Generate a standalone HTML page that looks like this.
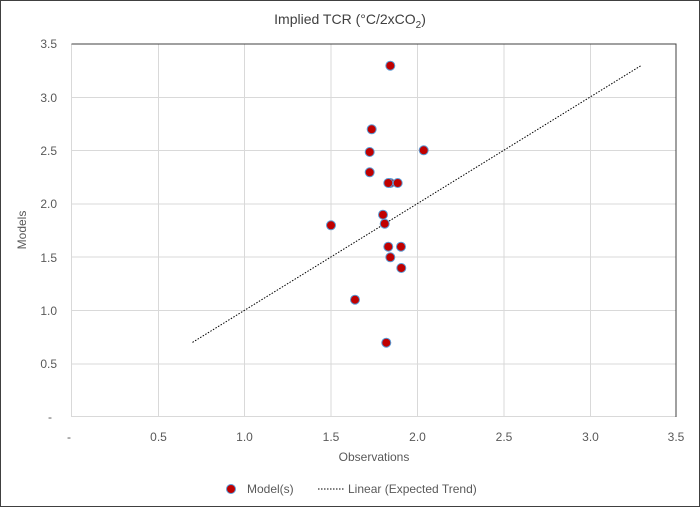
<!DOCTYPE html>
<html><head><style>body{margin:0;background:#fff}svg{display:block}</style></head><body>
<svg width="700" height="507" viewBox="0 0 700 507" font-family="Liberation Sans, sans-serif">
<rect x="0.5" y="0.5" width="699" height="506" fill="#fff" stroke="#404040"/>
<text x="350" y="24" text-anchor="middle" font-size="14" fill="#404040">Implied TCR (°C/2xCO<tspan font-size="10" dy="4">2</tspan><tspan dy="-4">)</tspan></text>
<g stroke="#d9d9d9" stroke-width="1">
<line x1="71.5" y1="364" x2="676.5" y2="364"/><line x1="71.5" y1="310.5" x2="676.5" y2="310.5"/>
<line x1="71.5" y1="257" x2="676.5" y2="257"/><line x1="71.5" y1="204" x2="676.5" y2="204"/>
<line x1="71.5" y1="150.5" x2="676.5" y2="150.5"/><line x1="71.5" y1="97.5" x2="676.5" y2="97.5"/>
<line x1="158.5" y1="44" x2="158.5" y2="417"/><line x1="244.5" y1="44" x2="244.5" y2="417"/>
<line x1="331" y1="44" x2="331" y2="417"/><line x1="417.5" y1="44" x2="417.5" y2="417"/>
<line x1="504" y1="44" x2="504" y2="417"/><line x1="590.5" y1="44" x2="590.5" y2="417"/>
<line x1="71.5" y1="44" x2="71.5" y2="417"/><line x1="71.5" y1="416.5" x2="676.5" y2="416.5"/>
</g>
<line x1="71.5" y1="44" x2="676.5" y2="44" stroke="#404040"/>
<line x1="676" y1="44" x2="676" y2="417" stroke="#404040"/>
<g font-size="12" fill="#595959" text-anchor="end">
<text x="57" y="48">3.5</text><text x="57" y="102">3.0</text><text x="57" y="155">2.5</text>
<text x="57" y="208">2.0</text><text x="57" y="262">1.5</text><text x="57" y="315">1.0</text>
<text x="57" y="368">0.5</text><text x="52" y="421">-</text>
</g>
<g font-size="12" fill="#595959" text-anchor="middle">
<text x="69" y="441">-</text><text x="158.5" y="441">0.5</text><text x="244.5" y="441">1.0</text>
<text x="331" y="441">1.5</text><text x="417.5" y="441">2.0</text><text x="504" y="441">2.5</text>
<text x="590.5" y="441">3.0</text><text x="676" y="441">3.5</text>
</g>
<text x="374" y="461" text-anchor="middle" font-size="12" fill="#595959">Observations</text>
<text transform="translate(26,230) rotate(-90)" text-anchor="middle" font-size="12" fill="#595959">Models</text>
<line x1="192.5" y1="342.4" x2="641.7" y2="65.2" stroke="#000" stroke-width="1" stroke-dasharray="1.5,1.5"/>
<g fill="#c00000" stroke="#5b9bd5" stroke-width="1">
<circle cx="390.3" cy="65.7" r="4.5"/><circle cx="371.7" cy="129.3" r="4.5"/>
<circle cx="369.7" cy="152" r="4.5"/><circle cx="423.7" cy="150.3" r="4.5"/>
<circle cx="369.7" cy="172.3" r="4.5"/><circle cx="390.3" cy="183" r="4.5"/><circle cx="388.3" cy="183" r="4.5"/>
<circle cx="397.7" cy="183" r="4.5"/><circle cx="383" cy="214.7" r="4.5"/>
<circle cx="384.7" cy="223.7" r="4.5"/><circle cx="331" cy="225.3" r="4.5"/>
<circle cx="388.3" cy="246.7" r="4.5"/><circle cx="401" cy="246.7" r="4.5"/>
<circle cx="390.3" cy="257.3" r="4.5"/><circle cx="401.3" cy="268" r="4.5"/>
<circle cx="355" cy="299.7" r="4.5"/><circle cx="386.3" cy="342.7" r="4.5"/>
<circle cx="231" cy="489" r="4.5"/>
</g>
<text x="247" y="493" font-size="12" fill="#595959">Model(s)</text>
<line x1="318" y1="489" x2="344" y2="489" stroke="#000" stroke-dasharray="1.5,1.5"/>
<text x="348" y="493" font-size="12" fill="#595959">Linear (Expected Trend)</text>
</svg>
</body></html>
